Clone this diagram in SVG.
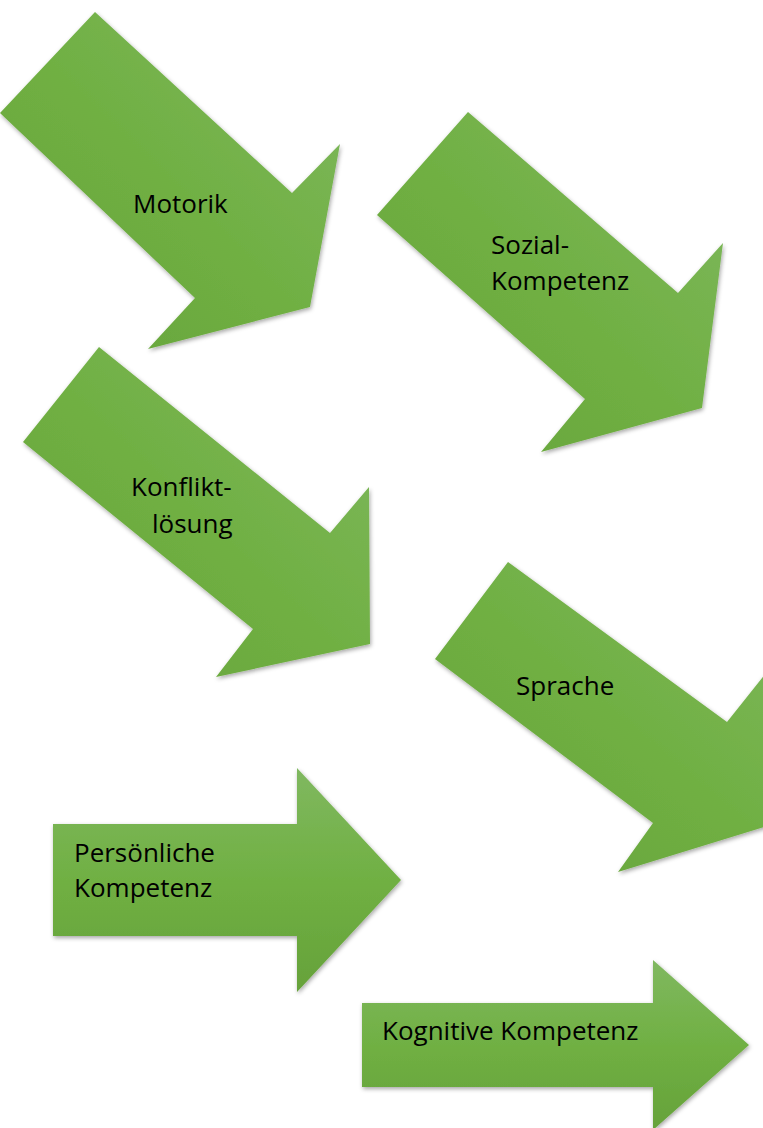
<svg xmlns="http://www.w3.org/2000/svg" width="763" height="1128" viewBox="0 0 763 1128">
<style>
.arrow{fill:url(#g);filter:url(#sh)}
.harrow{fill:url(#gv);filter:url(#sh)}
text{font-family:"Open Sans","Liberation Sans",sans-serif;font-size:26px;fill:#000}
</style>
<defs>
<linearGradient id="g" x1="1" y1="0" x2="0" y2="1">
<stop offset="0" stop-color="#80b860"/>
<stop offset="0.5" stop-color="#70b043"/>
<stop offset="1" stop-color="#66a23a"/>
</linearGradient>
<linearGradient id="gv" x1="0" y1="0" x2="0" y2="1">
<stop offset="0" stop-color="#80b860"/>
<stop offset="0.5" stop-color="#70b043"/>
<stop offset="1" stop-color="#66a23a"/>
</linearGradient>
<filter id="sh" x="-10%" y="-10%" width="120%" height="120%">
<feDropShadow dx="1" dy="2" stdDeviation="2" flood-color="#000" flood-opacity="0.35"/>
</filter>
</defs>
<rect width="763" height="1128" fill="#fff"/>
<g id="motorik">
<polygon class="arrow" points="95,12 292,193 340,144 310,307 148,349 195,298 0,113"/>
<text x="133" y="213">Motorik</text>
</g>
<g id="sozial">
<polygon class="arrow" points="468,112 678,293 723,243 702,408 541,452 585,399 377,215"/>
<text x="491" y="254">Sozial-</text>
<text x="491" y="290">Kompetenz</text>
</g>
<g id="konflikt">
<polygon class="arrow" points="99,347 330,533 369,487 370,644 216,677 253,629 23,442"/>
<text x="131" y="496">Konflikt-</text>
<text x="152" y="533">lösung</text>
</g>
<g id="sprache">
<polygon class="arrow" points="508,562 727,722 790,643 806,814 618,872 653,823 435,659"/>
<text x="516" y="695">Sprache</text>
</g>
<g id="persoenlich">
<polygon class="harrow" points="53,824 297,824 297,768 401,880 297,992 297,936 53,936"/>
<text x="74" y="862">Persönliche</text>
<text x="74" y="897">Kompetenz</text>
</g>
<g id="kognitiv">
<polygon class="harrow" points="362,1003 653,1003 653,960 749,1045 653,1130 653,1087 362,1087"/>
<text x="382" y="1040">Kognitive Kompetenz</text>
</g>
<g id="connectors"></g>
</svg>
